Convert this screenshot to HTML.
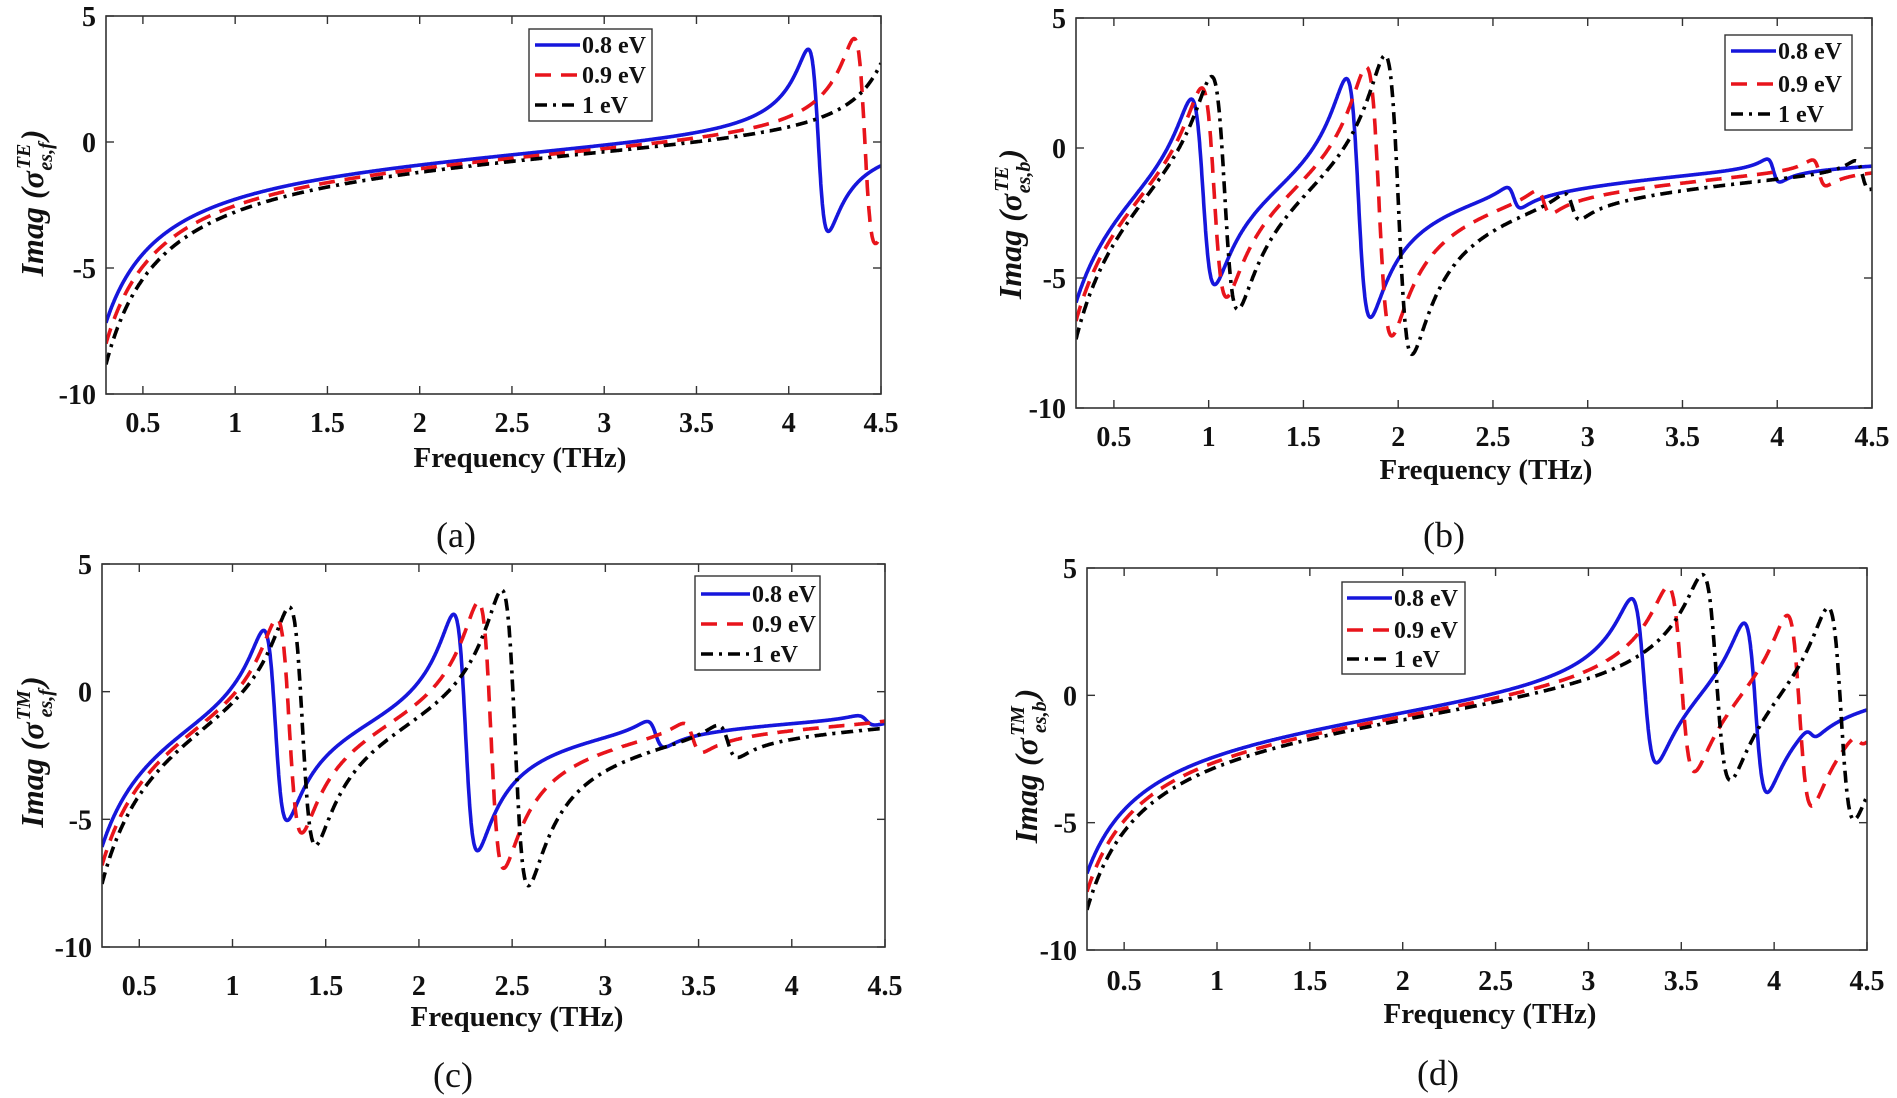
<!DOCTYPE html>
<html><head><meta charset="utf-8">
<style>
html,body{margin:0;padding:0;background:#fff;}
svg{display:block;}
text{font-family:"Liberation Serif",serif;font-weight:bold;}
</style></head>
<body>
<svg id="s" width="1897" height="1098" xmlns="http://www.w3.org/2000/svg"></svg>
<script>
const S=document.getElementById('s');
const NS='http://www.w3.org/2000/svg';
function el(t,a,txt){const e=document.createElementNS(NS,t);for(const k in a)e.setAttribute(k,a[k]);if(txt!==undefined)e.textContent=txt;S.appendChild(e);return e;}
const panels=[
 {L:106,R:881,T:16,B:394,base:[2,0.3,-0.7],res:[[4.16,0.4,0.055]],
  tickY:422,freq:[520,457],lab:['(a)',456,536],yl:[33,203],sub:'es,f',sup:'TE',
  leg:{x:529,y:29,w:123,h:92,rows:[45,75,105],lx:535,lx2:580,tx:582}},
 {L:1076,R:1872,T:18,B:408,base:[1.97,0.172,-0.59],res:[[0.97,0.49,0.065],[1.79,0.61,0.065],[2.61,0.036,0.04],[3.98,0.032,0.035]],
  tickY:436,freq:[1486,469],lab:['(b)',1444,536],yl:[1011,224],sub:'es,b',sup:'TE',
  leg:{x:1725,y:35,w:127,h:95,rows:[51,84,114],lx:1731,lx2:1776,tx:1778}},
 {L:102,R:885,T:564,B:947,base:[1.965,0.052,-0.416],res:[[1.23,0.5,0.065],[2.25,0.61,0.065],[3.27,0.055,0.05],[4.4,0.02,0.05]],
  tickY:985,freq:[517,1016],lab:['(c)',453,1076],yl:[33,752],sub:'es,f',sup:'TM',
  leg:{x:695,y:576,w:125,h:94,rows:[594,624,654],lx:701,lx2:750,tx:752}},
 {L:1087,R:1867,T:568,B:950,base:[1.772,0.57,-1.544],res:[[3.3,0.47,0.07],[3.9,0.45,0.065],[4.2,0.02,0.04]],
  tickY:980,freq:[1490,1013],lab:['(d)',1438,1074],yl:[1027,766],sub:'es,b',sup:'TM',
  leg:{x:1342,y:582,w:123,h:92,rows:[598,630,659],lx:1347,lx2:1392,tx:1394}}
];
const ser=[{E:0.8,c:'#1616dc',d:''},{E:0.9,c:'#e8141b',d:'16 10'},{E:1.0,c:'#000',d:'12 6 3 6'}];
panels.forEach((p,i)=>{
  const fx=f=>p.L+(f-0.3)/4.2*(p.R-p.L);
  const fy=y=>p.T+(5-y)/15*(p.B-p.T);
  const cid='c'+i;
  const cp=el('clipPath',{id:cid});
  const r=document.createElementNS(NS,'rect');
  r.setAttribute('x',p.L);r.setAttribute('y',p.T);r.setAttribute('width',p.R-p.L);r.setAttribute('height',p.B-p.T);cp.appendChild(r);
  ser.forEach(s=>{
    const sc=Math.sqrt(s.E/0.8);
    let d='';
    for(let f=0.3;f<=4.5001;f+=0.002){
      const u=f/sc;
      let y=-p.base[0]*sc/u+p.base[1]*u+p.base[2];
      p.res.forEach(q=>{const K=q[1]*sc*sc;const x=q[0]-u;y+=K*x/(x*x+q[2]*q[2]);});
      y=Math.max(-12,Math.min(7,y));
      d+=(d?'L':'M')+fx(f).toFixed(1)+','+fy(y).toFixed(1);
    }
    const a={d:d,fill:'none',stroke:s.c,'stroke-width':3.6,'clip-path':'url(#'+cid+')','stroke-linejoin':'round'};
    if(s.d)a['stroke-dasharray']=s.d;
    el('path',a);
  });
  el('rect',{x:p.L,y:p.T,width:p.R-p.L,height:p.B-p.T,fill:'none',stroke:'#333','stroke-width':1.6});
  for(let f=0.5;f<=4.5001;f+=0.5){
    const x=fx(f);
    el('line',{x1:x,y1:p.B,x2:x,y2:p.B-8,stroke:'#333','stroke-width':1.4});
    el('line',{x1:x,y1:p.T,x2:x,y2:p.T+8,stroke:'#333','stroke-width':1.4});
    el('text',{x:x,y:p.tickY+10,'font-size':28,'text-anchor':'middle',fill:'#111'},(Math.round(f*10)/10).toString());
  }
  [5,0,-5,-10].forEach(v=>{
    const y=fy(v);
    el('line',{x1:p.L,y1:y,x2:p.L+8,y2:y,stroke:'#333','stroke-width':1.4});
    el('line',{x1:p.R,y1:y,x2:p.R-8,y2:y,stroke:'#333','stroke-width':1.4});
    el('text',{x:p.L-10,y:y+10,'font-size':28,'text-anchor':'end',fill:'#111'},String(v));
  });
  el('text',{x:p.freq[0],y:p.freq[1]+10,'font-size':29,'text-anchor':'middle',fill:'#111'},'Frequency (THz)');
  el('text',{x:p.lab[1],y:p.lab[2]+11,'font-size':36,'text-anchor':'middle',style:'font-weight:normal',fill:'#111'},p.lab[0]);
  const t=el('text',{x:0,y:0,'font-size':32,'font-style':'italic','text-anchor':'middle',fill:'#111',transform:'translate('+(p.yl[0]+10)+','+p.yl[1]+') rotate(-90)'});
  t.innerHTML='Imag (σ<tspan font-size="20" dy="-13" dx="2">'+p.sup+'</tspan><tspan font-size="20" dy="22" dx="-27">'+p.sub+'</tspan><tspan dy="-9" dx="2">)</tspan>';
  const g=p.leg;
  el('rect',{x:g.x,y:g.y,width:g.w,height:g.h,fill:'#fff',stroke:'#333','stroke-width':1.4});
  ['0.8 eV','0.9 eV','1 eV'].forEach((lbl,k)=>{
    const a={x1:g.lx,y1:g.rows[k],x2:g.lx2,y2:g.rows[k],stroke:ser[k].c,'stroke-width':3.6};
    if(ser[k].d)a['stroke-dasharray']=ser[k].d;
    el('line',a);
    el('text',{x:g.tx,y:g.rows[k]+8,'font-size':24,fill:'#111'},lbl);
  });
});
</script>
</body></html>
